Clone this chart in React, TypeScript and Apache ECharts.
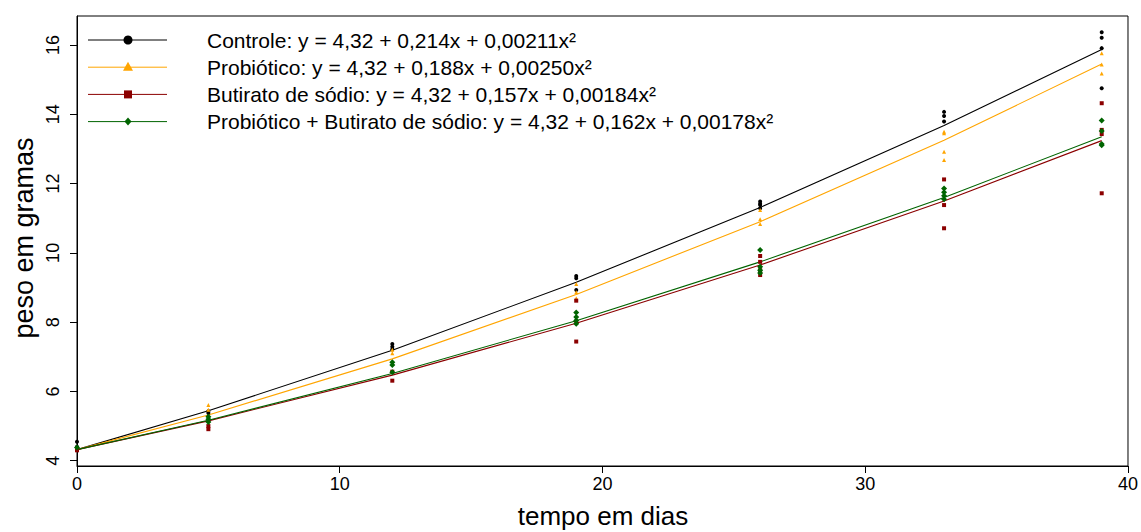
import React, { useEffect, useRef } from "react";
import * as echarts from "echarts";

// ---------- data ----------
const days = [0, 5, 12, 19, 26, 33, 39];

const fitControle = [4.32, 5.44, 7.19, 9.15, 11.31, 13.68, 15.87];
const fitProbiotico = [4.32, 5.32, 6.94, 8.8, 10.9, 13.25, 15.45];
const fitButirato = [4.32, 5.15, 6.47, 7.97, 9.65, 11.5, 13.24];
const fitProbBut = [4.32, 5.17, 6.52, 8.04, 9.74, 11.6, 13.35];

const ptsControle: [number, number][] = [
  [0, 4.55], [0, 4.4],
  [5, 5.43], [5, 5.38],
  [12, 7.37], [12, 7.29], [12, 7.22],
  [19, 9.33], [19, 9.27], [19, 8.93],
  [26, 11.48], [26, 11.42], [26, 11.38], [26, 11.29],
  [33, 14.07], [33, 13.95], [33, 13.79],
  [39, 16.37], [39, 16.21], [39, 15.91], [39, 14.75],
];
const ptsProbiotico: [number, number][] = [
  [0, 4.35],
  [5, 5.61], [5, 5.47],
  [12, 7.2], [12, 7.1],
  [19, 9.1], [19, 8.86], [19, 8.69],
  [26, 11.24], [26, 10.97], [26, 10.83],
  [33, 13.5], [33, 13.45], [33, 12.92], [33, 12.68],
  [39, 15.76], [39, 15.44], [39, 15.18],
];
const ptsButirato: [number, number][] = [
  [0, 4.3],
  [5, 5.0], [5, 4.91],
  [12, 6.57], [12, 6.31],
  [19, 8.62], [19, 8.01], [19, 7.44],
  [26, 9.91], [26, 9.74], [26, 9.5], [26, 9.36],
  [33, 12.12], [33, 11.38], [33, 10.71],
  [39, 14.32], [39, 13.55], [39, 13.43], [39, 11.72],
];
const ptsProbBut: [number, number][] = [
  [0, 4.38],
  [5, 5.27], [5, 5.2], [5, 5.12],
  [12, 6.84], [12, 6.76], [12, 6.55],
  [19, 8.28], [19, 8.15], [19, 8.05], [19, 7.95],
  [26, 10.08], [26, 9.6], [26, 9.5], [26, 9.42],
  [33, 11.86], [33, 11.75], [33, 11.65], [33, 11.55],
  [39, 13.82], [39, 13.52], [39, 13.14], [39, 13.11],
];

const legendLabels = [
  "Controle: y = 4,32 + 0,214x + 0,00211x²",
  "Probiótico: y = 4,32 + 0,188x + 0,00250x²",
  "Butirato de sódio: y = 4,32 + 0,157x + 0,00184x²",
  "Probiótico + Butirato de sódio: y = 4,32 + 0,162x + 0,00178x²",
];
const yTicks = [4, 6, 8, 10, 12, 14, 16];
const xTitle = "tempo em dias";
const yTitle = "peso em gramas";

// ---------- styles ----------
const COLORS = ["#000000", "#FFA500", "#8B0000", "#006400"];
const FONT = "'Liberation Sans', Arial, sans-serif";
const GRID = { left: 77, top: 16, width: 1053, height: 450 };

function lineSeries(data: number[], color: string) {
  return {
    type: "line",
    data: days.map((d, i) => [d, data[i]]),
    showSymbol: false,
    symbol: "none",
    lineStyle: { color, width: 1.1 },
    silent: true,
    z: 2,
  };
}
function scatterSeries(data: [number, number][], color: string, symbol: string, size: number) {
  return {
    type: "scatter",
    data,
    symbol,
    symbolSize: size,
    itemStyle: { color, opacity: 1 },
    silent: true,
    z: 3,
  };
}

function legendGraphics() {
  const els: any[] = [];
  legendLabels.forEach((label, i) => {
    const y = 40 + i * 27.2;
    const c = COLORS[i];
    els.push({ type: "line", shape: { x1: 88, y1: y, x2: 167, y2: y }, style: { stroke: c, lineWidth: 1 } });
    if (i === 0) els.push({ type: "circle", shape: { cx: 128, cy: y, r: 4.5 }, style: { fill: c } });
    if (i === 1)
      els.push({ type: "polygon", shape: { points: [[128, y - 5.5], [133, y + 3.5], [123, y + 3.5]] }, style: { fill: c } });
    if (i === 2) els.push({ type: "rect", shape: { x: 124, y: y - 4, width: 8, height: 8 }, style: { fill: c } });
    if (i === 3)
      els.push({ type: "polygon", shape: { points: [[128, y - 4], [131.5, y], [128, y + 4], [124.5, y]] }, style: { fill: c } });
    els.push({
      type: "text",
      x: 207,
      y,
      style: { text: label, fontSize: 21, fontFamily: FONT, fill: "#000", verticalAlign: "middle", align: "left" },
    });
  });
  els.push({
    type: "text",
    x: 603,
    y: 516,
    style: { text: xTitle, fontSize: 26, fontFamily: FONT, fill: "#000", verticalAlign: "middle", align: "center" },
  });
  els.push({
    type: "text",
    x: 24,
    y: 238,
    rotation: Math.PI / 2,
    style: { text: yTitle, fontSize: 27, fontFamily: FONT, fill: "#000", verticalAlign: "middle", align: "center" },
  });
  return els;
}

export default function App() {
  const ref = useRef<HTMLDivElement>(null);
  useEffect(() => {
    if (!ref.current) return;
    const chart = echarts.init(ref.current, null, { renderer: "svg" });
    chart.setOption({
      animation: false,
      backgroundColor: "#ffffff",
      grid: { ...GRID, show: true, borderColor: "#000", borderWidth: 1, backgroundColor: "transparent" },
      xAxis: {
        type: "value",
        min: 0,
        max: 40,
        interval: 10,
        axisLine: { show: true, lineStyle: { color: "#000", width: 1 } },
        axisTick: { show: true, length: 7, lineStyle: { color: "#000" } },
        axisLabel: { color: "#000", fontSize: 18, fontFamily: FONT, margin: 9 },
        splitLine: { show: false },
      },
      yAxis: {
        type: "value",
        min: 3.847,
        max: 16.838,
        axisLine: { show: true, lineStyle: { color: "#000", width: 1 } },
        axisTick: { show: true, length: 7, lineStyle: { color: "#000" }, customValues: yTicks },
        axisLabel: { color: "#000", fontSize: 18, fontFamily: FONT, margin: 15, rotate: 90, customValues: yTicks },
        splitLine: { show: false },
      },
      graphic: legendGraphics(),
      series: [
        lineSeries(fitControle, COLORS[0]),
        lineSeries(fitProbiotico, COLORS[1]),
        lineSeries(fitButirato, COLORS[2]),
        lineSeries(fitProbBut, COLORS[3]),
        scatterSeries(ptsControle, COLORS[0], "circle", 4),
        scatterSeries(ptsProbiotico, COLORS[1], "triangle", 4),
        scatterSeries(ptsButirato, COLORS[2], "rect", 4),
        scatterSeries(ptsProbBut, COLORS[3], "diamond", 6),
      ],
    });
    return () => chart.dispose();
  }, []);
  return <div ref={ref} style={{ position: "fixed", left: 0, top: 0, width: 1141, height: 532 }} />;
}
